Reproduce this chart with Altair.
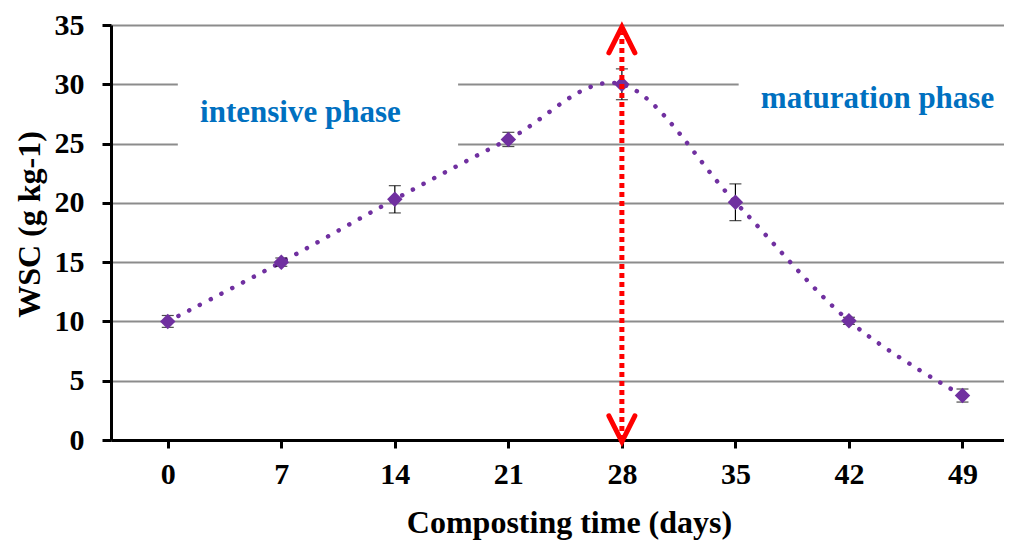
import altair as alt
import pandas as pd

# ---- data ----
days = [0, 7, 14, 21, 28, 35, 42, 49]
wsc = [10.0, 15.0, 20.3, 25.35, 30.0, 20.05, 10.05, 3.75]
err = [0.5, 0.35, 1.15, 0.6, 1.3, 1.55, 0.3, 0.55]

phase_labels = ["intensive phase", "maturation phase"]
phase_x = [8.18, 43.76]
phase_y = [26.85, 28.03]
box_x = [0.62, 35.2]
box_x2 = [17.9, 51.56]
box_y = [24.1, 26.1]
box_y2 = [31.2, 31.6]

arrow_day = 28
arrow_bottom = -0.15
arrow_top = 34.85

PURPLE = "#7030A0"
BLUE = "#0070C0"
RED = "#FF0000"
FONT = "Liberation Serif"

df = pd.DataFrame({"day": days, "wsc": wsc, "err": err})
df["lo"] = df["wsc"] - df["err"]
df["hi"] = df["wsc"] + df["err"]

xscale = alt.Scale(domain=[-3.5, 51.56], nice=False, zero=False)
yscale = alt.Scale(domain=[0, 35], nice=False)

xaxis = alt.Axis(
    values=days, grid=False, title="Composting time (days)",
    domainColor="black", domainWidth=3, tickColor="black", tickWidth=3, tickSize=8,
    labelFont=FONT, labelFontSize=30, labelFontWeight="bold", labelColor="black",
    labelPadding=11, labelFlush=False,
    titleFont=FONT, titleFontSize=32, titleFontWeight="bold", titleColor="black",
    titleX=458, titleY=92, titleAlign="center", titleBaseline="alphabetic",
)
yaxis = alt.Axis(
    values=[0, 5, 10, 15, 20, 25, 30, 35], grid=True, gridColor="#8C8C8C", gridWidth=2,
    title="WSC (g kg-1)",
    domainColor="black", domainWidth=3, tickColor="black", tickWidth=3, tickSize=9,
    labelFont=FONT, labelFontSize=30, labelFontWeight="bold", labelColor="black",
    labelPadding=18,
    titleFont=FONT, titleFontSize=32, titleFontWeight="bold", titleColor="black",
    titleX=-82, titleY=199, titleAngle=270, titleAlign="center", titleBaseline="middle",
)

base = alt.Chart(df)

# white boxes behind the phase labels (mask gridlines)
boxes_df = pd.DataFrame({"x": box_x, "x2": box_x2, "y": box_y, "y2": box_y2})
boxes = alt.Chart(boxes_df).mark_rect(color="white", opacity=1).encode(
    x=alt.X("x:Q", scale=xscale, axis=xaxis),
    x2="x2:Q",
    y=alt.Y("y:Q", scale=yscale, axis=yaxis),
    y2="y2:Q",
)

labels_df = pd.DataFrame({"label": phase_labels, "x": phase_x, "y": phase_y})
labels = alt.Chart(labels_df).mark_text(
    font=FONT, fontSize=31, fontWeight="bold", color=BLUE, align="center", baseline="alphabetic"
).encode(x=alt.X("x:Q", scale=xscale), y=alt.Y("y:Q", scale=yscale), text="label:N")

line = base.mark_line(
    interpolate="cardinal", color=PURPLE, strokeWidth=4.5, strokeDash=[0.1, 12], strokeCap="round"
).encode(x=alt.X("day:Q", scale=xscale), y=alt.Y("wsc:Q", scale=yscale))

ebar = base.mark_rule(color="black", strokeWidth=1.2).encode(
    x=alt.X("day:Q", scale=xscale), y=alt.Y("lo:Q", scale=yscale), y2="hi:Q"
)
cap_lo = base.mark_tick(orient="horizontal", color="black", size=12, thickness=1.2).encode(
    x=alt.X("day:Q", scale=xscale), y=alt.Y("lo:Q", scale=yscale)
)
cap_hi = base.mark_tick(orient="horizontal", color="black", size=12, thickness=1.2).encode(
    x=alt.X("day:Q", scale=xscale), y=alt.Y("hi:Q", scale=yscale)
)

points = base.mark_point(shape="diamond", filled=True, color=PURPLE, size=240, opacity=1).encode(
    x=alt.X("day:Q", scale=xscale), y=alt.Y("wsc:Q", scale=yscale)
)

arrow_df = pd.DataFrame({"x": [arrow_day], "y": [0.0], "y2": [arrow_top - 0.5]})
arrow_line = alt.Chart(arrow_df).mark_rule(color=RED, strokeWidth=5, strokeDash=[5, 4]).encode(
    x=alt.X("x:Q", scale=xscale), y=alt.Y("y:Q", scale=yscale), y2="y2:Q"
)
head_up = alt.Chart(pd.DataFrame({"x": [arrow_day], "y": [arrow_top]})).mark_point(
    shape="M -1 2 L 0 0 L 1 2", filled=False, color=RED, strokeWidth=5, size=676, opacity=1,
    strokeJoin="miter", strokeCap="round",
).encode(x=alt.X("x:Q", scale=xscale), y=alt.Y("y:Q", scale=yscale))
head_down = alt.Chart(pd.DataFrame({"x": [arrow_day], "y": [arrow_bottom]})).mark_point(
    shape="M -1 -2 L 0 0 L 1 -2", filled=False, color=RED, strokeWidth=5, size=676, opacity=1,
    strokeJoin="miter", strokeCap="round",
).encode(x=alt.X("x:Q", scale=xscale), y=alt.Y("y:Q", scale=yscale))

chart = alt.layer(
    boxes, labels, line, ebar, cap_lo, cap_hi, points, arrow_line, head_up, head_down
).properties(
    width=893, height=415,
    autosize=alt.AutoSizeParams(type="none"),
    padding={"left": 103, "top": 17, "right": 0, "bottom": 101},
    background="white",
).configure_view(stroke=None)

chart.save("out.html", embed_options={"renderer": "svg", "actions": False})
